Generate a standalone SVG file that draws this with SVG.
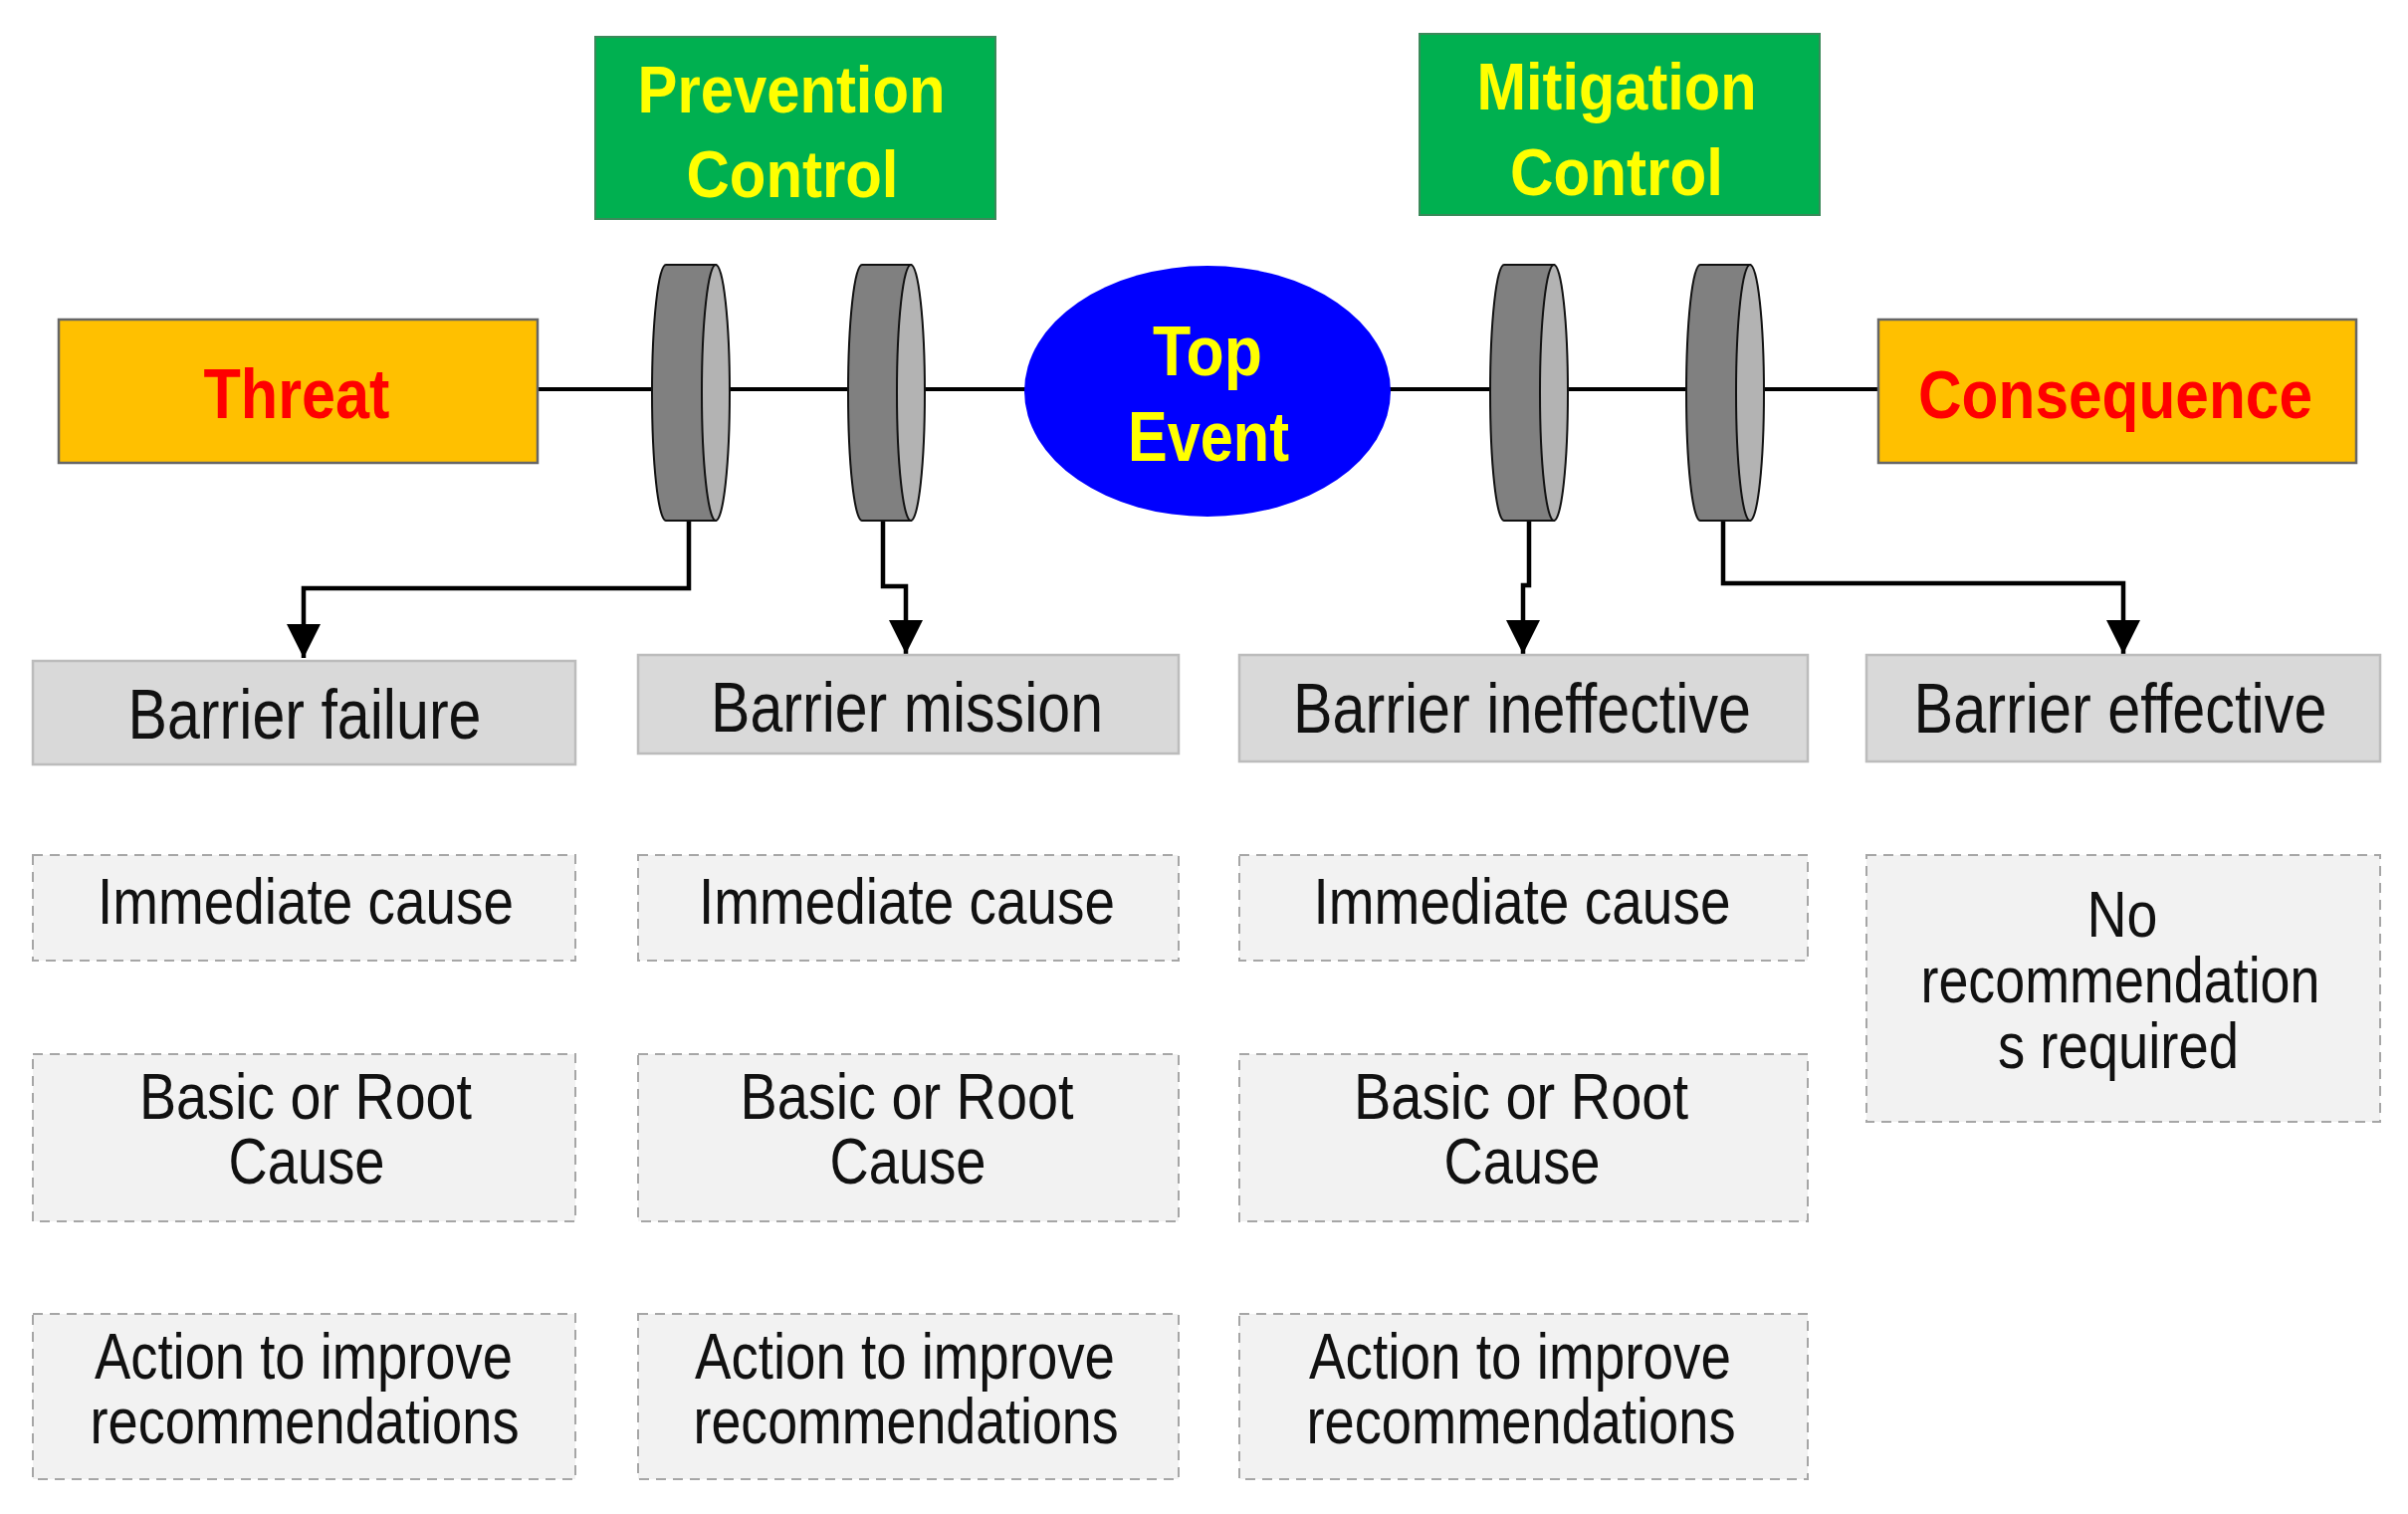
<svg xmlns="http://www.w3.org/2000/svg" width="2419" height="1521" viewBox="0 0 2419 1521">
<style>
.t{font-family:"Liberation Sans",Arial,sans-serif;text-anchor:middle}
.b{font-weight:bold}
.red{fill:#ff0000}
.yel{fill:#ffff00}
.blk{fill:#111111}
.orange{fill:#ffc000;stroke:#666666;stroke-width:2.5}
.green{fill:#00b050;stroke:#3a8a5a;stroke-width:2}
.lbl{fill:#d9d9d9;stroke:#bcbcbc;stroke-width:2.5}
.dash{fill:#f2f2f2;stroke:#a6a6a6;stroke-width:2;stroke-dasharray:10 7}
.body{fill:#808080;stroke:#111;stroke-width:2}
.face{fill:#b3b3b3;stroke:#111;stroke-width:2}
.conn{fill:none;stroke:#000;stroke-width:4.5}
</style>
<defs>
<marker id="arr" viewBox="0 0 10 10" refX="10" refY="5" markerWidth="34" markerHeight="34" markerUnits="userSpaceOnUse" orient="auto">
<path d="M0,0 L10,5 L0,10 Z" fill="#000"/>
</marker>
</defs>
<rect width="2419" height="1521" fill="#ffffff"/>
<g id="connectors">
<line x1="540" y1="391" x2="1887" y2="391" stroke="#000" stroke-width="4"/>
<path class="conn" d="M692,523 V591 H305 V661" marker-end="url(#arr)"/>
<path class="conn" d="M887,523 V589 H910 V657" marker-end="url(#arr)"/>
<path class="conn" d="M1536,523 V588 H1530 V657" marker-end="url(#arr)"/>
<path class="conn" d="M1731,523 V586 H2133 V657" marker-end="url(#arr)"/>
</g>
<g id="threat">
<rect class="orange" x="59" y="321" width="481" height="144"/>
<text class="t b red" x="298" y="420" font-size="70" textLength="187" lengthAdjust="spacingAndGlyphs">Threat</text>
</g>
<g id="consequence">
<rect class="orange" x="1887" y="321" width="480" height="144"/>
<text class="t b red" x="2125" y="420" font-size="69" textLength="396" lengthAdjust="spacingAndGlyphs">Consequence</text>
</g>
<g id="prevention-control">
<rect class="green" x="598" y="37" width="402" height="183"/>
<text class="t b yel" x="795" y="113" font-size="66" textLength="309" lengthAdjust="spacingAndGlyphs">Prevention</text>
<text class="t b yel" x="796" y="198" font-size="66" textLength="213" lengthAdjust="spacingAndGlyphs">Control</text>
</g>
<g id="mitigation-control">
<rect class="green" x="1426" y="34" width="402" height="182"/>
<text class="t b yel" x="1624" y="110" font-size="66" textLength="281" lengthAdjust="spacingAndGlyphs">Mitigation</text>
<text class="t b yel" x="1624" y="196" font-size="66" textLength="214" lengthAdjust="spacingAndGlyphs">Control</text>
</g>
<g id="top-event">
<ellipse cx="1213" cy="393" rx="184" ry="126" fill="#0000ff"/>
<text class="t b yel" x="1213" y="377" font-size="70" textLength="110" lengthAdjust="spacingAndGlyphs">Top</text>
<text class="t b yel" x="1214" y="463" font-size="70" textLength="162" lengthAdjust="spacingAndGlyphs">Event</text>
</g>
<g id="barrier-1">
<path class="body" d="M669,266 H719 V523 H669 A14,128.5 0 0 1 669,266 Z"/>
<ellipse class="face" cx="719" cy="394.5" rx="14" ry="128.5"/>
</g>
<g id="barrier-2">
<path class="body" d="M866,266 H915 V523 H866 A14,128.5 0 0 1 866,266 Z"/>
<ellipse class="face" cx="915" cy="394.5" rx="14" ry="128.5"/>
</g>
<g id="barrier-3">
<path class="body" d="M1511,266 H1561 V523 H1511 A14,128.5 0 0 1 1511,266 Z"/>
<ellipse class="face" cx="1561" cy="394.5" rx="14" ry="128.5"/>
</g>
<g id="barrier-4">
<path class="body" d="M1708,266 H1758 V523 H1708 A14,128.5 0 0 1 1708,266 Z"/>
<ellipse class="face" cx="1758" cy="394.5" rx="14" ry="128.5"/>
</g>
<g id="barrier-failure">
<rect class="lbl" x="33" y="664" width="545" height="104"/>
<text class="t blk" x="306" y="742" font-size="70" textLength="355" lengthAdjust="spacingAndGlyphs">Barrier failure</text>
</g>
<g id="barrier-mission">
<rect class="lbl" x="641" y="658" width="543" height="99"/>
<text class="t blk" x="911" y="735" font-size="70" textLength="394" lengthAdjust="spacingAndGlyphs">Barrier mission</text>
</g>
<g id="barrier-ineffective">
<rect class="lbl" x="1245" y="658" width="571" height="107"/>
<text class="t blk" x="1529" y="736" font-size="70" textLength="460" lengthAdjust="spacingAndGlyphs">Barrier ineffective</text>
</g>
<g id="barrier-effective">
<rect class="lbl" x="1875" y="658" width="516" height="107"/>
<text class="t blk" x="2130" y="736" font-size="70" textLength="415" lengthAdjust="spacingAndGlyphs">Barrier effective</text>
</g>
<g id="immediate-cause-1">
<rect class="dash" x="33" y="859" width="545" height="106"/>
<text class="t blk" x="307" y="928" font-size="64" textLength="418" lengthAdjust="spacingAndGlyphs">Immediate cause</text>
</g>
<g id="immediate-cause-2">
<rect class="dash" x="641" y="859" width="543" height="106"/>
<text class="t blk" x="911" y="928" font-size="64" textLength="418" lengthAdjust="spacingAndGlyphs">Immediate cause</text>
</g>
<g id="immediate-cause-3">
<rect class="dash" x="1245" y="859" width="571" height="106"/>
<text class="t blk" x="1529" y="928" font-size="64" textLength="419" lengthAdjust="spacingAndGlyphs">Immediate cause</text>
</g>
<g id="no-recommendations">
<rect class="dash" x="1875" y="859" width="516" height="268"/>
<text class="t blk" x="2132" y="941" font-size="64" textLength="71" lengthAdjust="spacingAndGlyphs">No</text>
<text class="t blk" x="2130" y="1007" font-size="64" textLength="401" lengthAdjust="spacingAndGlyphs">recommendation</text>
<text class="t blk" x="2128" y="1073" font-size="64" textLength="242" lengthAdjust="spacingAndGlyphs">s required</text>
</g>
<g id="root-cause-1">
<rect class="dash" x="33" y="1059" width="545" height="168"/>
<text class="t blk" x="307" y="1124" font-size="64" textLength="334" lengthAdjust="spacingAndGlyphs">Basic or Root</text>
<text class="t blk" x="308" y="1189" font-size="64" textLength="157" lengthAdjust="spacingAndGlyphs">Cause</text>
</g>
<g id="root-cause-2">
<rect class="dash" x="641" y="1059" width="543" height="168"/>
<text class="t blk" x="911" y="1124" font-size="64" textLength="335" lengthAdjust="spacingAndGlyphs">Basic or Root</text>
<text class="t blk" x="912" y="1189" font-size="64" textLength="157" lengthAdjust="spacingAndGlyphs">Cause</text>
</g>
<g id="root-cause-3">
<rect class="dash" x="1245" y="1059" width="571" height="168"/>
<text class="t blk" x="1528" y="1124" font-size="64" textLength="336" lengthAdjust="spacingAndGlyphs">Basic or Root</text>
<text class="t blk" x="1529" y="1189" font-size="64" textLength="157" lengthAdjust="spacingAndGlyphs">Cause</text>
</g>
<g id="action-1">
<rect class="dash" x="33" y="1320" width="545" height="166"/>
<text class="t blk" x="305" y="1385" font-size="64" textLength="420" lengthAdjust="spacingAndGlyphs">Action to improve</text>
<text class="t blk" x="306" y="1450" font-size="64" textLength="431" lengthAdjust="spacingAndGlyphs">recommendations</text>
</g>
<g id="action-2">
<rect class="dash" x="641" y="1320" width="543" height="166"/>
<text class="t blk" x="909" y="1385" font-size="64" textLength="422" lengthAdjust="spacingAndGlyphs">Action to improve</text>
<text class="t blk" x="910" y="1450" font-size="64" textLength="427" lengthAdjust="spacingAndGlyphs">recommendations</text>
</g>
<g id="action-3">
<rect class="dash" x="1245" y="1320" width="571" height="166"/>
<text class="t blk" x="1527" y="1385" font-size="64" textLength="424" lengthAdjust="spacingAndGlyphs">Action to improve</text>
<text class="t blk" x="1528" y="1450" font-size="64" textLength="431" lengthAdjust="spacingAndGlyphs">recommendations</text>
</g>
</svg>
